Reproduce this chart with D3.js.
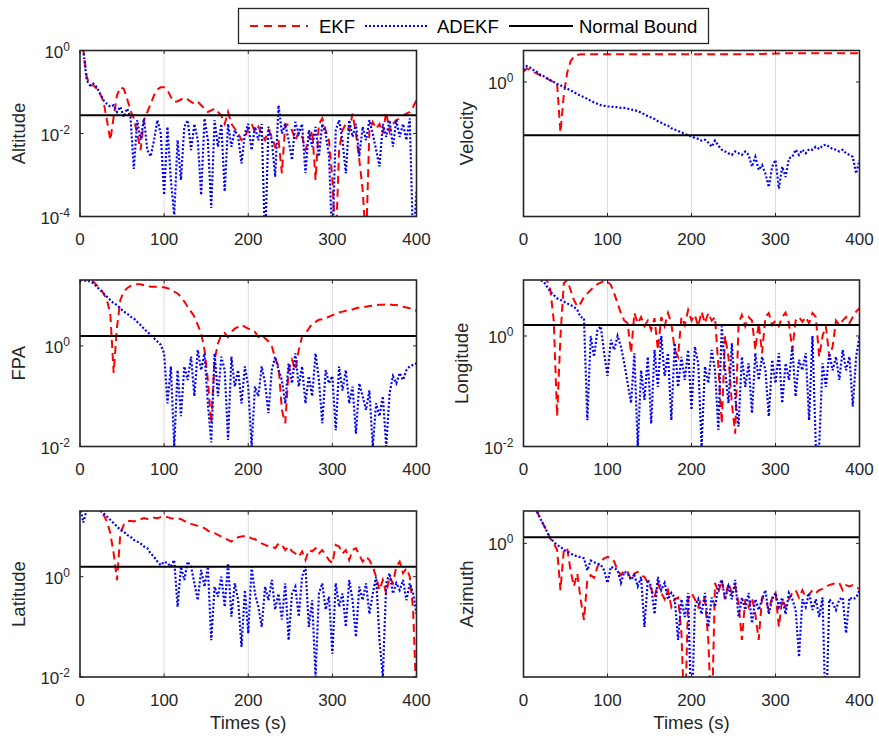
<!DOCTYPE html>
<html><head><meta charset="utf-8">
<script src="https://cdn.jsdelivr.net/npm/d3@7"></script>
<style>
body{margin:0;background:#fff}
svg{display:block}
text{font-family:"Liberation Sans",Arial,Helvetica,sans-serif}
</style>
</head><body>
<svg id="chart" width="879" height="739"></svg>
<script>
// ---------------- DATA ----------------
const times = [0,4,8,12,16,20,24,28,32,36,40,44,48,52,56,60,64,68,72,76,80,84,88,92,96,100,
104,108,112,116,120,124,128,132,136,140,144,148,152,156,160,164,168,172,176,180,184,188,192,196,200,
204,208,212,216,220,224,228,232,236,240,244,248,252,256,260,264,268,272,276,280,284,288,292,296,300,
304,308,312,316,320,324,328,332,336,340,344,348,352,356,360,364,368,372,376,380,384,388,392,396,400];

const xTicks = [0,100,200,300,400];
const gridTimes = [100,200,300];
const seriesNames = ["EKF","ADEKF","Normal Bound"];
const yLabels = ["Altitude","Velocity","FPA","Longitude","Latitude","Azimuth"];
const xLabel = "Times (s)";

const altEKF = [5,1.0,0.23,0.145,0.145,0.12,0.09,0.058,0.021,0.0069,
0.025,0.083,0.13,0.12,0.069,0.036,0.023,0.01,0.004,0.021,
0.033,0.052,0.083,0.115,0.13,0.13,0.11,0.076,0.058,0.06,
0.066,0.072,0.066,0.058,0.052,0.058,0.048,0.04,0.033,0.036,
0.04,0.033,0.027,0.017,0.033,0.017,0.013,0.01,0.0069,0.0083,
0.013,0.017,0.011,0.0145,0.01,0.0069,0.012,0.0083,0.0048,0.0069,
0.0011,0.017,0.016,0.012,0.0069,0.011,0.0083,0.004,0.0069,0.012,
0.00076,0.017,0.023,0.012,0.0069,0.00076,0.00002,0.004,0.012,0.017,
0.012,0.03,0.01,0.0023,0.00044,0.00002,0.012,0.019,0.013,0.017,
0.01,0.033,0.011,0.017,0.021,0.023,0.027,0.03,0.033,0.044,
0.063];
const altADEKF = [5,1.0,0.19,0.145,0.16,0.13,0.09,0.063,0.052,0.044,
0.048,0.033,0.044,0.025,0.04,0.025,0.0014,0.021,0.0069,0.023,
0.004,0.0028,0.0069,0.021,0.01,0.00033,0.0145,0.00076,0.00011,0.0069,
0.00076,0.0145,0.021,0.004,0.017,0.0069,0.00033,0.023,0.0069,0.00016,
0.021,0.0048,0.017,0.0004,0.017,0.0048,0.012,0.0083,0.0019,0.01,
0.017,0.004,0.0145,0.0069,0.017,0.00002,0.0145,0.0069,0.0009,0.048,
0.01,0.017,0.0069,0.0023,0.019,0.01,0.017,0.0011,0.012,0.0048,
0.0145,0.0028,0.017,0.01,0.0028,0.00002,0.012,0.021,0.0069,0.0011,
0.021,0.0083,0.017,0.0028,0.0145,0.0069,0.021,0.01,0.004,0.0016,
0.017,0.0083,0.021,0.0048,0.021,0.0083,0.017,0.0069,0.023,0.00002,
0.0004];

const velEKF = [1.33,1.47,1.4,1.33,1.27,1.21,1.15,1.1,1.05,1.0,
0.95,0.24,0.7,1.3,1.8,2.05,2.15,2.2,2.2,2.2,
2.2,2.2,2.2,2.2,2.2,2.2,2.2,2.2,2.2,2.2,
2.2,2.2,2.2,2.2,2.2,2.2,2.2,2.2,2.2,2.2,
2.2,2.2,2.2,2.2,2.2,2.2,2.2,2.2,2.2,2.2,
2.2,2.2,2.2,2.2,2.2,2.2,2.2,2.2,2.2,2.2,
2.2,2.2,2.2,2.2,2.2,2.2,2.2,2.2,2.2,2.2,
2.21,2.21,2.22,2.22,2.23,2.24,2.24,2.25,2.25,2.25,
2.25,2.25,2.25,2.25,2.25,2.25,2.25,2.25,2.25,2.25,
2.26,2.26,2.26,2.26,2.26,2.26,2.26,2.26,2.26,2.26,
2.26];
const velADEKF = [1.4,1.57,1.5,1.4,1.33,1.23,1.18,1.12,1.05,1.0,
0.95,0.91,0.87,0.83,0.79,0.75,0.71,0.68,0.65,0.62,
0.59,0.56,0.54,0.52,0.51,0.5,0.5,0.49,0.49,0.48,
0.48,0.47,0.46,0.45,0.44,0.42,0.40,0.38,0.365,0.35,
0.33,0.316,0.30,0.29,0.27,0.26,0.25,0.24,0.23,0.22,
0.215,0.205,0.2,0.19,0.195,0.18,0.16,0.19,0.165,0.147,
0.14,0.133,0.127,0.14,0.133,0.127,0.14,0.127,0.091,0.12,
0.083,0.095,0.075,0.051,0.091,0.11,0.049,0.091,0.068,0.115,
0.12,0.147,0.127,0.147,0.133,0.15,0.147,0.16,0.15,0.165,
0.17,0.16,0.15,0.147,0.14,0.147,0.133,0.127,0.12,0.075,
0.11];

const fpaEKF = [24,22,21,20,19,16,14,11,8.2,4.4,
0.29,2.4,8.2,12,14,15.5,16,16.8,16.8,16,
15.5,15,15,15,14.6,14.6,14,13.4,12,11,
9.5,7.6,6.0,4.8,3.8,2.6,1.8,0.83,0.21,0.029,
0.53,1.13,1.66,1.8,1.5,1.9,2.2,2.4,2.6,2.4,
2.2,2.1,1.9,1.5,1.66,1.42,1.22,1.0,0.57,0.39,
0.053,0.029,0.33,0.53,0.33,0.83,1.53,1.8,2.2,2.8,
3.0,3.3,3.4,3.5,3.8,4.1,4.3,4.6,4.8,5.0,
5.2,5.3,5.6,5.8,6.0,6.0,6.2,6.3,6.5,6.6,
6.6,6.7,6.7,6.5,6.5,6.2,6.0,5.8,5.6,5.3,
5.0];
const fpaADEKF = [20,20,19.8,19,17.6,15,13,11,9.5,8.2,
7.0,6.5,5.6,4.8,4.4,3.8,3.5,3.0,2.6,2.2,
1.9,1.66,1.42,1.22,1.05,0.71,0.072,0.39,0.01,0.33,
0.04,0.39,0.21,0.61,0.1,0.83,0.33,0.71,0.072,0.012,
0.71,0.1,0.61,0.33,0.0135,0.61,0.155,0.33,0.072,0.39,
0.155,0.01,0.155,0.1,0.39,0.18,0.046,0.33,0.61,0.33,
0.21,0.072,0.45,0.18,0.71,0.155,0.39,0.072,0.25,0.1,
0.71,0.21,0.029,0.33,0.18,0.25,0.021,0.39,0.13,0.33,
0.072,0.155,0.018,0.18,0.1,0.053,0.13,0.01,0.072,0.04,
0.1,0.01,0.115,0.25,0.18,0.29,0.21,0.33,0.39,0.42,
0.45];

const lonEKF = [20,20,20,20,18,15,12,10,6.8,1.9,
0.035,1.0,9,10.3,6.8,4.5,3.4,3.9,5.1,5.9,
6.8,7.8,8.7,9.2,10,9.6,8.4,5.9,3.9,2.6,
1.9,1.7,0.49,2.6,1.7,2.2,1.5,1.9,1.28,2.1,
0.56,2.2,1.5,2.6,1.7,0.56,0.42,2.2,1.58,2.95,
1.9,2.4,1.5,2.75,1.7,2.6,1.9,2.2,0.28,0.026,
1.0,0.42,0.061,0.017,1.7,2.4,1.5,2.2,1.9,0.56,
1.7,0.49,2.2,2.6,1.58,1.9,1.5,2.2,2.65,1.7,
0.56,1.9,2.2,1.8,2.2,1.7,2.6,2.2,0.42,1.0,
1.5,0.42,0.64,1.9,1.58,1.9,2.2,1.7,2.2,2.75,
3.2];
const lonADEKF = [20,20,20,20,15,10.3,9.6,7.8,6.3,5.5,
4.8,4.5,4.2,3.9,3.6,3.4,2.95,2.2,2.1,0.03,
1.0,0.42,1.28,1.5,0.49,0.19,0.85,0.56,1.0,0.64,
0.32,0.14,0.061,0.49,0.01,0.24,0.07,0.42,0.026,0.56,
0.12,1.0,0.19,0.49,0.03,0.74,0.12,0.42,0.16,0.56,
0.046,0.64,0.32,0.01,0.28,0.14,0.56,0.24,0.02,1.5,
0.24,0.061,0.74,0.08,0.023,0.42,0.12,0.32,0.04,0.49,
0.16,0.42,0.24,0.035,0.37,0.14,0.49,0.061,0.32,0.16,
0.64,0.08,0.37,0.24,0.49,0.03,1.0,0.01,0.01,0.32,
0.12,0.49,0.24,0.42,0.16,0.56,0.24,0.42,0.053,0.42,
1.0];

const latEKF = [25,25,25,25,25,24,20,17,12.6,7.4,
2.9,0.85,7.4,10.8,12.6,13,12.6,13.6,14,14.7,
14.2,14.7,15,14.7,15.4,15.8,15.4,14.7,14.5,14.7,
14,13,11.7,11.3,10.8,10.3,9.7,9.3,8.3,7.6,
7.4,6.8,6.3,5.8,5.4,5.0,5.8,6.1,6.3,6.5,
6.3,5.8,5.6,5.0,4.6,4.3,4.0,4.0,3.7,4.6,
4.3,3.4,4.0,3.2,2.9,2.5,3.2,2.15,3.4,3.2,
3.7,2.9,3.4,2.7,2.15,1.85,4.3,4.0,2.9,3.4,
2.15,3.4,3.7,2.7,2.0,2.5,2.15,1.58,1.0,0.54,
0.86,0.46,1.0,0.74,1.58,2.0,1.17,1.47,1.0,0.22,
0.003];
const latADEKF = [25,12,22,22,22,22,20.6,18.5,15.8,13.6,
11.7,10,8.6,8.0,6.8,6.3,5.4,5.0,4.6,4.0,
3.7,2.9,2.5,2.0,1.7,2.0,1.85,1.58,2.15,0.25,
1.58,0.86,2.0,1.58,0.74,0.34,1.36,0.63,1.58,0.054,
0.63,0.4,1.0,0.25,1.85,0.16,0.74,0.34,0.04,0.54,
0.074,1.58,0.46,0.25,0.1,0.63,0.34,0.86,0.22,0.46,
0.14,0.74,0.054,0.46,0.63,0.16,1.0,1.58,0.1,0.34,
0.01,0.46,0.74,0.22,0.4,0.029,0.74,0.25,0.46,0.1,
0.86,0.34,0.063,0.63,0.34,0.74,0.18,0.46,1.0,0.054,
0.01,0.74,1.17,0.46,0.74,0.54,0.86,0.34,0.74,0.46,
0.18];

const aziEKF = [5,4,3.5,3.0,2.5,2.05,1.7,1.4,1.15,1.0,
0.83,0.26,0.83,0.87,0.46,0.29,0.42,0.2,0.11,0.35,
0.4,0.37,0.51,0.59,0.65,0.68,0.65,0.59,0.46,0.4,
0.46,0.44,0.35,0.42,0.44,0.4,0.38,0.32,0.27,0.21,
0.32,0.24,0.2,0.26,0.16,0.2,0.21,0.075,0.005,0.2,
0.24,0.2,0.16,0.21,0.2,0.062,0.005,0.32,0.24,0.35,
0.2,0.32,0.24,0.29,0.18,0.062,0.2,0.16,0.21,0.13,
0.062,0.21,0.2,0.147,0.21,0.24,0.09,0.2,0.16,0.2,
0.24,0.26,0.21,0.26,0.21,0.23,0.26,0.24,0.26,0.27,
0.29,0.3,0.31,0.32,0.32,0.26,0.3,0.29,0.3,0.28,
0.27];
const aziADEKF = [5,4,3.5,2.8,2.5,2.05,1.7,1.4,1.15,1.05,
0.95,0.91,0.83,0.79,0.75,0.71,0.69,0.67,0.65,0.46,
0.61,0.58,0.56,0.54,0.46,0.32,0.51,0.49,0.46,0.32,
0.44,0.42,0.35,0.4,0.29,0.38,0.09,0.35,0.29,0.13,
0.38,0.26,0.32,0.2,0.24,0.21,0.062,0.2,0.12,0.24,
0.005,0.16,0.2,0.13,0.24,0.09,0.21,0.16,0.29,0.35,
0.2,0.29,0.2,0.35,0.12,0.21,0.147,0.24,0.1,0.2,
0.147,0.2,0.26,0.13,0.2,0.24,0.16,0.21,0.13,0.24,
0.2,0.147,0.038,0.2,0.16,0.24,0.147,0.2,0.12,0.21,
0.005,0.2,0.18,0.147,0.2,0.21,0.075,0.21,0.2,0.21,
0.26];

const bounds = [0.0275, 0.222, 1.58, 1.58, 1.58, 1.19];
const yDomains = [[1e-4,1],[0.0222,2.44],[0.01,20.4],[0.01,10.3],[0.01,20.4],[0.0213,2.54]];
const yTickValues = [[1e-4,1e-2,1],[1],[1e-2,1],[1e-2,1],[1e-2,1],[1]];
const ekfSeries = [altEKF, velEKF, fpaEKF, lonEKF, latEKF, aziEKF];
const adekfSeries = [altADEKF, velADEKF, fpaADEKF, lonADEKF, latADEKF, aziADEKF];

// ---------------- LAYOUT ----------------
const rows = [{top:50.5,bottom:216.5},{top:280,bottom:446.5},{top:511,bottom:677}];
const cols = [{left:80,right:416.5},{left:523.5,right:859.5}];
const AX = "#262626";
const RED = "#ff0000", BLUE = "#0000ff";

const svg = d3.select("#chart");
const defs = svg.append("defs");

yLabels.forEach((name, k) => {
  const r = rows[Math.floor(k/2)], c = cols[k%2];
  const x = d3.scaleLinear().domain([0,400]).range([c.left, c.right]);
  const y = d3.scaleLog().domain(yDomains[k]).range([r.bottom, r.top]);
  const g = svg.append("g");

  defs.append("clipPath").attr("id","clip"+k).append("rect")
    .attr("x", c.left).attr("y", r.top).attr("width", c.right-c.left).attr("height", r.bottom-r.top);

  // grid
  g.selectAll(".grid").data(gridTimes).enter().append("line")
    .attr("x1", d=>x(d)).attr("x2", d=>x(d)).attr("y1", r.top).attr("y2", r.bottom)
    .attr("stroke","#dcdcdc").attr("stroke-width",1);

  const plot = g.append("g").attr("clip-path","url(#clip"+k+")");
  const line = d3.line().x(d=>x(d.t)).y(d=>y(d.v));
  const ekf = times.map((t,i)=>({t, v: ekfSeries[k][i]}));
  const ade = times.map((t,i)=>({t, v: adekfSeries[k][i]}));

  plot.append("path").datum(ekf).attr("d", line).attr("fill","none")
    .attr("stroke",RED).attr("stroke-width",2).attr("stroke-dasharray","8,5");
  plot.append("path").datum(ade).attr("d", line).attr("fill","none")
    .attr("stroke",BLUE).attr("stroke-width",2.2).attr("stroke-dasharray","2,2");
  plot.append("line").attr("x1", x(0)).attr("x2", x(400))
    .attr("y1", y(bounds[k])).attr("y2", y(bounds[k]))
    .attr("stroke","#000").attr("stroke-width",2);

  // box
  g.append("rect").attr("x", c.left).attr("y", r.top)
    .attr("width", c.right-c.left).attr("height", r.bottom-r.top)
    .attr("fill","none").attr("stroke",AX).attr("stroke-width",1.6);

  // x ticks (inward, top and bottom)
  xTicks.forEach(t => {
    g.append("line").attr("x1",x(t)).attr("x2",x(t)).attr("y1",r.bottom).attr("y2",r.bottom-3.5)
      .attr("stroke",AX).attr("stroke-width",1);
    g.append("line").attr("x1",x(t)).attr("x2",x(t)).attr("y1",r.top).attr("y2",r.top+3.5)
      .attr("stroke",AX).attr("stroke-width",1);
    g.append("text").attr("x",x(t)).attr("y",r.bottom+28.5).attr("text-anchor","middle")
      .attr("font-size",17).attr("fill",AX).text(t);
  });

  // y ticks
  let hasNeg = false;
  yTickValues[k].forEach(v => {
    const yy = y(v);
    g.append("line").attr("x1",c.left).attr("x2",c.left+3.5).attr("y1",yy).attr("y2",yy)
      .attr("stroke",AX).attr("stroke-width",1);
    g.append("line").attr("x1",c.right).attr("x2",c.right-3.5).attr("y1",yy).attr("y2",yy)
      .attr("stroke",AX).attr("stroke-width",1);
    const e = Math.round(Math.log10(v));
    if (e < 0) hasNeg = true;
    const tx = g.append("text").attr("x",c.left-10).attr("y",yy+7)
      .attr("text-anchor","end").attr("fill",AX).attr("font-size",17);
    tx.append("tspan").text("10");
    tx.append("tspan").attr("dy",-7).attr("font-size",12).text(String(e));
  });

  // y label
  const lx = c.left - (hasNeg ? 61.5 : 57);
  const ly = (r.top + r.bottom)/2;
  g.append("text").attr("transform",`translate(${lx},${ly}) rotate(-90)`)
    .attr("text-anchor","middle").attr("dy","0.35em").attr("font-size",18.5).attr("fill",AX)
    .text(name);

  if (k >= 4) {
    g.append("text").attr("x",(c.left+c.right)/2).attr("y",729).attr("text-anchor","middle")
      .attr("font-size",18.5).attr("fill",AX).text(xLabel);
  }
});

// ---------------- LEGEND ----------------
const lg = svg.append("g");
lg.append("rect").attr("x",238.5).attr("y",8.5).attr("width",470).attr("height",35)
  .attr("fill","#fff").attr("stroke",AX).attr("stroke-width",1.3);
const legendItems = [
  {name: seriesNames[0], x1:250, x2:308, tx:319, color:RED, dash:"8,6"},
  {name: seriesNames[1], x1:365, x2:429, tx:437, color:BLUE, dash:"2,2"},
  {name: seriesNames[2], x1:509, x2:573, tx:579, color:"#000", dash:null}
];
legendItems.forEach(it => {
  const l = lg.append("line").attr("x1",it.x1).attr("x2",it.x2).attr("y1",26).attr("y2",26)
    .attr("stroke",it.color).attr("stroke-width",2);
  if (it.dash) l.attr("stroke-dasharray",it.dash);
  lg.append("text").attr("x",it.tx).attr("y",32.5).attr("font-size",18.5).attr("fill","#000").text(it.name);
});
</script>
</body></html>
